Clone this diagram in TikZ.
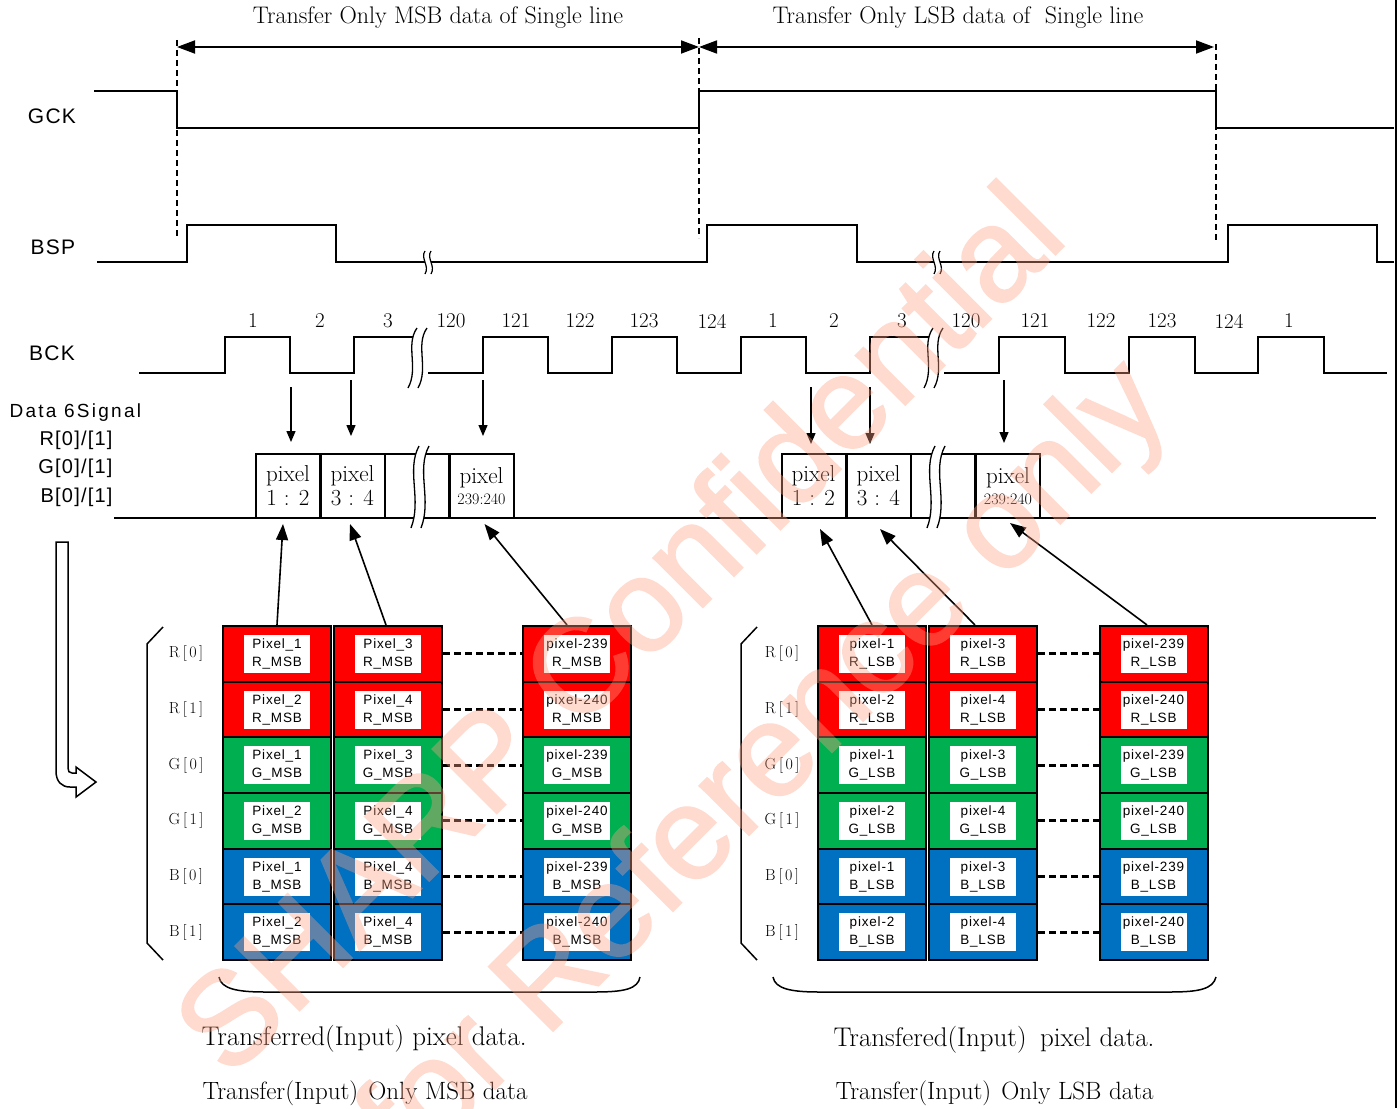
\documentclass[tikz,border=0pt]{standalone}
\usepackage{fontspec}
\newfontfamily\gothic[LetterSpace=6]{Liberation Sans}
\newfontfamily\gothicw[LetterSpace=12]{Liberation Sans}
\newfontfamily\wmfont[FakeBold=1.5]{Liberation Sans}
\usetikzlibrary{arrows.meta}
\definecolor{cR}{RGB}{255,0,0}
\definecolor{cG}{RGB}{0,176,80}
\definecolor{cB}{RGB}{0,112,192}
\definecolor{wmc}{RGB}{255,160,130}
\newcommand\fsz[2]{\fontsize{#1}{#2}\selectfont}
\tikzset{
  wave/.style={line width=2pt, line join=miter},
  dimarr/.style={line width=1.8pt, {Triangle[length=18pt,width=13pt]}-{Triangle[length=18pt,width=13pt]}},
  vdash/.style={line width=1.2pt, dash pattern=on 6pt off 4pt},
  downarr/.style={line width=1.3pt, -{Triangle[length=11pt,width=9pt]}},
  uparr/.style={line width=1.6pt, -{Triangle[length=16pt,width=12pt]}},
  dbox/.style={draw, line width=2pt, minimum width=64pt, minimum height=64pt, inner sep=0pt, align=center, font=\fsz{23}{24}},
  cellbox/.style={draw, line width=2pt, minimum width=108pt, minimum height=55.7pt, inner sep=0pt},
  lab/.style={fill=white, inner sep=0pt, minimum width=66pt, minimum height=38pt, align=center, font=\gothic\fsz{13.5}{18}},
  dots/.style={line width=3.2pt, dash pattern=on 7pt off 4pt},
  rowlab/.style={font=\fsz{16}{18}},
  sig/.style={font=\gothic\fsz{21}{24}},
  captxt/.style={anchor=west},
  wm/.style={font=\wmfont\fsz{132}{140}, text=wmc, rotate=45, anchor=base, inner sep=0pt}
}
\newcommand\mkcell[6]{%
  \node[cellbox,fill=#4] (#1) at (#2,#3) {};
  \node[lab] (#1t) at (#1) {#5\\#6};}
\newcommand\rl[2]{#1\hspace{3pt}[\hspace{2.5pt}#2\hspace{2.5pt}]}
\begin{document}
\begin{tikzpicture}[x=1pt,y=-1pt]
\useasboundingbox (0,0) rectangle (1399,1108);
\fill[white] (0,0) rectangle (1399,1108);

% ---------- titles and dimension arrows
\node[font=\fsz{24}{26}] (t1) at (438,18) {Transfer Only MSB data of Single line};
\node[font=\fsz{24}{26}] (t2) at (958,18) {Transfer Only LSB data of\ \ Single line};
\coordinate (g1) at (177,47);
\coordinate (g2) at (699,47);
\coordinate (g3) at (1214,47);
\draw[dimarr] (g1) -- (g2);
\draw[dimarr] (g2) -- (g3);
\draw[vdash] (177,40) -- (177,236);
\draw[vdash] (699,38) -- (699,238);
\draw[vdash] (1216,44) -- (1216,240);

% ---------- signal names
\node[sig] (gck) at (52,116) {GCK};
\node[sig] (bsp) at (53,247) {BSP};
\node[sig] (bck) at (52,353) {BCK};
\node[font=\gothicw\fsz{19}{22}, anchor=west] (d6) at (6,413) {Data 6Signal};
\node[font=\gothic\fsz{20}{22}, anchor=east] (dr) at (116,440) {R[0]/[1]};
\node[font=\gothic\fsz{20}{22}, anchor=east] (dg) at (116,468) {G[0]/[1]};
\node[font=\gothic\fsz{20}{22}, anchor=east] (db) at (116,497) {B[0]/[1]};

% ---------- GCK
\draw[wave] (94,91) -- (177,91) -- (177,128) -- (699,128) -- (699,91) -- (1216,91) -- (1216,128) -- (1394,128);

% ---------- BSP
\draw[wave] (97,262) -- (187,262) -- (187,225) -- (336,225) -- (336,262) -- (707,262) -- (707,225) -- (857,225) -- (857,262) -- (1228,262) -- (1228,225) -- (1377,225) -- (1377,262) -- (1394,262);
\foreach \bx in {428,937}{
  \fill[white] (\bx-3,250) rectangle (\bx+3,274);
  \draw[line width=1.2pt] (\bx-3,251) .. controls (\bx-8,258) and (\bx+2,266) .. (\bx-3,274);
  \draw[line width=1.2pt] (\bx+3,251) .. controls (\bx-2,258) and (\bx+8,266) .. (\bx+3,274);
}

% ---------- BCK
\draw[wave] (139,373) -- (225,373) -- (225,337) -- (290,337) -- (290,373) -- (354,373) -- (354,337) -- (416,337);
\draw[wave] (428,373) -- (483,373) -- (483,337) -- (548,337) -- (548,373) -- (612,373) -- (612,337) -- (677,337) -- (677,373) -- (741,373) -- (741,337) -- (806,337) -- (806,373) -- (870,373) -- (870,337) -- (932,337);
\draw[wave] (944,373) -- (999,373) -- (999,337) -- (1065,337) -- (1065,373) -- (1129,373) -- (1129,337) -- (1195,337) -- (1195,373) -- (1258,373) -- (1258,337) -- (1324,337) -- (1324,373) -- (1387,373);
\foreach \bx in {422,938}{
  \fill[white] (\bx-5,328) .. controls (\bx-17,345) and (\bx-3,368) .. (\bx-14,388) -- (\bx-4,388) .. controls (\bx+7,368) and (\bx-7,345) .. (\bx+5,328) -- cycle;
  \draw[line width=1.3pt] (\bx-5,328) .. controls (\bx-17,345) and (\bx-3,368) .. (\bx-14,388);
  \draw[line width=1.3pt] (\bx+5,328) .. controls (\bx-7,345) and (\bx+7,368) .. (\bx-4,388);
}
\foreach \n/\x [count=\i] in {1/253,2/320,3/388,120/451,121/516,122/580,123/644,124/712,1/773,2/834,3/902,120/966,121/1035,122/1101,123/1162,124/1229,1/1289}
  \node[font=\fsz{21}{22}] (bn\i) at (\x,321) {\n};

% ---------- data line and data boxes
\draw[line width=2pt] (114,518) -- (1376,518);
\node[dbox] (p1) at (288,486) {pixel\\1 : 2};
\node[dbox] (p2) at (352.5,486) {pixel\\3 : 4};
\node[dbox] (p3) at (417,486) {};
\node[dbox] (p4) at (481.5,486) {pixel\\[-3pt]{\fsz{16}{17}239:240}};
\node[dbox] (q1) at (813.5,486) {pixel\\1 : 2};
\node[dbox] (q2) at (878.5,486) {pixel\\3 : 4};
\node[dbox] (q3) at (943,486) {};
\node[dbox] (q4) at (1008,486) {pixel\\[-3pt]{\fsz{16}{17}239:240}};
\foreach \bx in {424,940}{
  \fill[white] (\bx-5,446) .. controls (\bx-18,470) and (\bx-2,500) .. (\bx-13,528) -- (\bx-3,528) .. controls (\bx+8,500) and (\bx-8,470) .. (\bx+5,446) -- cycle;
  \draw[line width=1.3pt] (\bx-5,446) .. controls (\bx-18,470) and (\bx-2,500) .. (\bx-13,528);
  \draw[line width=1.3pt] (\bx+5,446) .. controls (\bx-8,470) and (\bx+8,500) .. (\bx-3,528);
}

% ---------- sampling arrows from BCK
\coordinate (s1) at (291,387);
\coordinate (s2) at (351,380);
\coordinate (s3) at (483,380);
\coordinate (s4) at (811,387);
\coordinate (s5) at (870,387);
\coordinate (s6) at (1004,380);
\draw[downarr] (s1) -- ([xshift=3pt,yshift=11pt]p1.north);
\draw[downarr] (s2) -- ([xshift=-1.5pt,yshift=17pt]p2.north);
\draw[downarr] (s3) -- ([xshift=1.5pt,yshift=17pt]p4.north);
\draw[downarr] (s4) -- ([xshift=-2.5pt,yshift=9pt]q1.north);
\draw[downarr] (s5) -- ([xshift=-8.5pt,yshift=9pt]q2.north);
\draw[downarr] (s6) -- ([xshift=-4pt,yshift=10pt]q4.north);

% ---------- left cell table (MSB)
\mkcell{La1}{277}{653.8}{cR}{Pixel\_1}{R\_MSB}
\mkcell{La2}{277}{709.5}{cR}{Pixel\_2}{R\_MSB}
\mkcell{La3}{277}{765.2}{cG}{Pixel\_1}{G\_MSB}
\mkcell{La4}{277}{820.8}{cG}{Pixel\_2}{G\_MSB}
\mkcell{La5}{277}{876.5}{cB}{Pixel\_1}{B\_MSB}
\mkcell{La6}{277}{932.2}{cB}{Pixel\_2}{B\_MSB}
\mkcell{Lb1}{388}{653.8}{cR}{Pixel\_3}{R\_MSB}
\mkcell{Lb2}{388}{709.5}{cR}{Pixel\_4}{R\_MSB}
\mkcell{Lb3}{388}{765.2}{cG}{Pixel\_3}{G\_MSB}
\mkcell{Lb4}{388}{820.8}{cG}{Pixel\_4}{G\_MSB}
\mkcell{Lb5}{388}{876.5}{cB}{Pixel\_4}{B\_MSB}
\mkcell{Lb6}{388}{932.2}{cB}{Pixel\_4}{B\_MSB}
\mkcell{Lc1}{577}{653.8}{cR}{pixel-239}{R\_MSB}
\mkcell{Lc2}{577}{709.5}{cR}{pixel-240}{R\_MSB}
\mkcell{Lc3}{577}{765.2}{cG}{pixel-239}{G\_MSB}
\mkcell{Lc4}{577}{820.8}{cG}{pixel-240}{G\_MSB}
\mkcell{Lc5}{577}{876.5}{cB}{pixel-239}{B\_MSB}
\mkcell{Lc6}{577}{932.2}{cB}{pixel-240}{B\_MSB}
\foreach \r in {1,...,6} \draw[dots] (Lb\r.east) -- (Lc\r.west);
\foreach \t/\k/\y in {R/0/653.8,R/1/709.5,G/0/765.2,G/1/820.8,B/0/876.5,B/1/932.2}
  \node[rowlab] (lr\t\k) at (186,\y) {\rl{\t}{\k}};
\draw[line width=1.5pt] (163,627) -- (147,644) -- (147,943) -- (163,960);
\draw[line width=1.5pt] (219,977) .. controls (221,989) and (238,992) .. (265,992) -- (595,992) .. controls (624,992) and (638,989) .. (640,977);

% ---------- right cell table (LSB)
\mkcell{Ra1}{872}{653.8}{cR}{pixel-1}{R\_LSB}
\mkcell{Ra2}{872}{709.5}{cR}{pixel-2}{R\_LSB}
\mkcell{Ra3}{872}{765.2}{cG}{pixel-1}{G\_LSB}
\mkcell{Ra4}{872}{820.8}{cG}{pixel-2}{G\_LSB}
\mkcell{Ra5}{872}{876.5}{cB}{pixel-1}{B\_LSB}
\mkcell{Ra6}{872}{932.2}{cB}{pixel-2}{B\_LSB}
\mkcell{Rb1}{983}{653.8}{cR}{pixel-3}{R\_LSB}
\mkcell{Rb2}{983}{709.5}{cR}{pixel-4}{R\_LSB}
\mkcell{Rb3}{983}{765.2}{cG}{pixel-3}{G\_LSB}
\mkcell{Rb4}{983}{820.8}{cG}{pixel-4}{G\_LSB}
\mkcell{Rb5}{983}{876.5}{cB}{pixel-3}{B\_LSB}
\mkcell{Rb6}{983}{932.2}{cB}{pixel-4}{B\_LSB}
\mkcell{Rc1}{1153.5}{653.8}{cR}{pixel-239}{R\_LSB}
\mkcell{Rc2}{1153.5}{709.5}{cR}{pixel-240}{R\_LSB}
\mkcell{Rc3}{1153.5}{765.2}{cG}{pixel-239}{G\_LSB}
\mkcell{Rc4}{1153.5}{820.8}{cG}{pixel-240}{G\_LSB}
\mkcell{Rc5}{1153.5}{876.5}{cB}{pixel-239}{B\_LSB}
\mkcell{Rc6}{1153.5}{932.2}{cB}{pixel-240}{B\_LSB}
\foreach \r in {1,...,6} \draw[dots] (Rb\r.east) -- (Rc\r.west);
\foreach \t/\k/\y in {R/0/653.8,R/1/709.5,G/0/765.2,G/1/820.8,B/0/876.5,B/1/932.2}
  \node[rowlab] (rr\t\k) at (782,\y) {\rl{\t}{\k}};
\draw[line width=1.5pt] (757,627) -- (741,644) -- (741,943) -- (757,960);
\draw[line width=1.5pt] (773,977) .. controls (775,989) and (792,992) .. (819,992) -- (1170,992) .. controls (1199,992) and (1213,989) .. (1216,977);

% ---------- arrows from cells to data boxes
\draw[uparr] (La1.north) -- ([xshift=-5pt,yshift=-5pt]p1.south);
\draw[uparr] ([xshift=-2pt]Lb1.north) -- ([xshift=-2.5pt,yshift=-5pt]p2.south);
\draw[uparr] ([xshift=-10pt]Lc1.north) -- ([xshift=3pt,yshift=-5pt]p4.south);
\draw[uparr] (Ra1.north) -- ([xshift=6.5pt,yshift=-10pt]q1.south);
\draw[uparr] ([xshift=-8pt]Rb1.north) -- ([xshift=1.5pt,yshift=-10pt]q2.south);
\draw[uparr] ([xshift=-6.5pt]Rc1.north) -- ([xshift=2pt,yshift=-4pt]q4.south);

% ---------- hollow bent arrow
\draw[line width=1.5pt, fill=white] (56,542) -- (56,771) .. controls (56,782) and (62,787) .. (70,787) -- (76,787) -- (76,797) -- (96,782) -- (76,767) -- (76,773) -- (72,773) .. controls (69,773) and (68,771) .. (68,768) -- (68,542) -- cycle;

% ---------- bottom captions
\node[captxt, font=\fsz{27}{28}] (c1) at (198,1039) {Transferred(Input) pixel data.};
\node[captxt, font=\fsz{25}{28}] (c2) at (199,1093) {Transfer(Input)\hspace{0.4em}Only MSB data};
\node[captxt, font=\fsz{27}{28}] (c3) at (830,1040) {Transfered(Input)\hspace{0.5em}pixel data.};
\node[captxt, font=\fsz{25}{28}] (c4) at (832,1093) {Transfer(Input)\hspace{0.4em}Only LSB data};

% ---------- right frame line
\draw[line width=2pt] (1396,0) -- (1396,1108);

% ---------- watermark
\begin{scope}[transparency group, opacity=0.38]
\node[wm] (wm1) at (650,660) {SHARP Confidential};
\node[wm] (wm2) at (792,792) {for Reference only};
\end{scope}
\end{tikzpicture}
\end{document}
